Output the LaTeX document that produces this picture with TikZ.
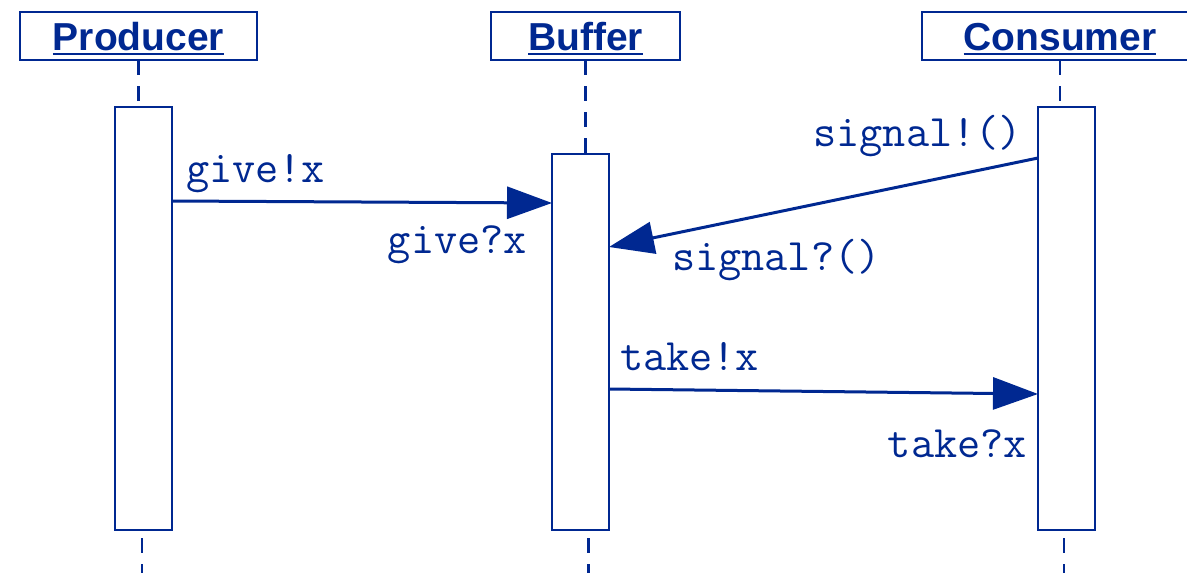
\documentclass[tikz,border=0pt]{standalone}
\usepackage{fontspec}
\setmainfont{Liberation Sans}
\usetikzlibrary{arrows.meta,calc}
\definecolor{seqblue}{RGB}{0,40,145}
\begin{document}
\begin{tikzpicture}[x=1pt,y=-1pt,
  every node/.style={inner sep=0pt, outer sep=0pt},
  head/.style={draw=seqblue, line width=2.8pt, minimum height=48pt},
  headtext/.style={font=\fontsize{39}{44}\selectfont\bfseries, text=seqblue,
                   text height=28pt, text depth=0pt},
  act/.style={draw=seqblue, line width=2.8pt, minimum width=57pt, fill=white},
  life/.style={draw=seqblue, line width=2.8pt, dash pattern=on 15pt off 11pt},
  msg/.style={draw=seqblue, line width=3pt, -{Triangle[length=45pt,width=32pt]}},
  lbl/.style={font=\ttfamily\fontsize{45}{50}\selectfont, text=seqblue}]

\useasboundingbox (0,0) rectangle (1187,573);

% object headers
\node[head, minimum width=237pt] (hp) at (138.5,36) {};
\node[head, minimum width=189pt] (hb) at (585.5,36) {};
\node[head, minimum width=276pt] (hc) at (1060,36) {};
\node[headtext] (tp) at (hp.center) {Producer};
\node[headtext] (tb) at (hb.center) {Buffer};
\node[headtext] (tc) at (hc.center) {Consumer};
\foreach \t in {tp,tb,tc}
  \draw[seqblue, line width=2.5pt] ([yshift=-4pt]\t.base west) -- ([yshift=-4pt]\t.base east);

% activation bars
\node[act, minimum height=423pt] (pa) at (143.5,318.5) {};
\node[act, minimum height=376pt] (ba) at (580.5,342) {};
\node[act, minimum height=423pt] (ca) at (1066.5,318.5) {};

% lifelines
\draw[life] (hp.south) -- (hp.south |- pa.north);
\draw[life] (hb.south) -- (hb.south |- ba.north);
\draw[life] (hc.south) -- (hc.south |- ca.north);
\coordinate (pend) at ([xshift=3.5pt]hp.south |- 0,590);
\coordinate (bend) at ([xshift=3pt]hb.south |- 0,590);
\coordinate (cend) at ([xshift=4pt]hc.south |- 0,590);
\draw[life, dash phase=18pt] ([xshift=3.5pt]hp.south |- pa.south) -- (pend);
\draw[life, dash phase=18pt] ([xshift=3pt]hb.south |- ba.south) -- (bend);
\draw[life, dash phase=18pt] ([xshift=4pt]hc.south |- ca.south) -- (cend);

% messages
\draw[msg] ($(pa.north east)+(0,94)$) -- ($(ba.north west)+(0,49)$);
\draw[msg] ($(ca.north west)+(0,51)$) -- ($(ba.north east)+(0,93)$);
\draw[msg] ($(ba.north east)+(0,235)$) -- ($(ca.north west)+(0,287)$);

% message labels
\node[lbl, anchor=base west] (l1) at (186,182) {give!x};
\node[lbl, anchor=base east] (l2) at (527,253) {give?x};
\node[lbl, anchor=base east] (l3) at (1022,146) {signal!()};
\node[lbl, anchor=base west] (l4) at (672,270) {signal?()};
\node[lbl, anchor=base west] (l5) at (620,370) {take!x};
\node[lbl, anchor=base east] (l6) at (1027,457) {take?x};
\end{tikzpicture}
\end{document}
